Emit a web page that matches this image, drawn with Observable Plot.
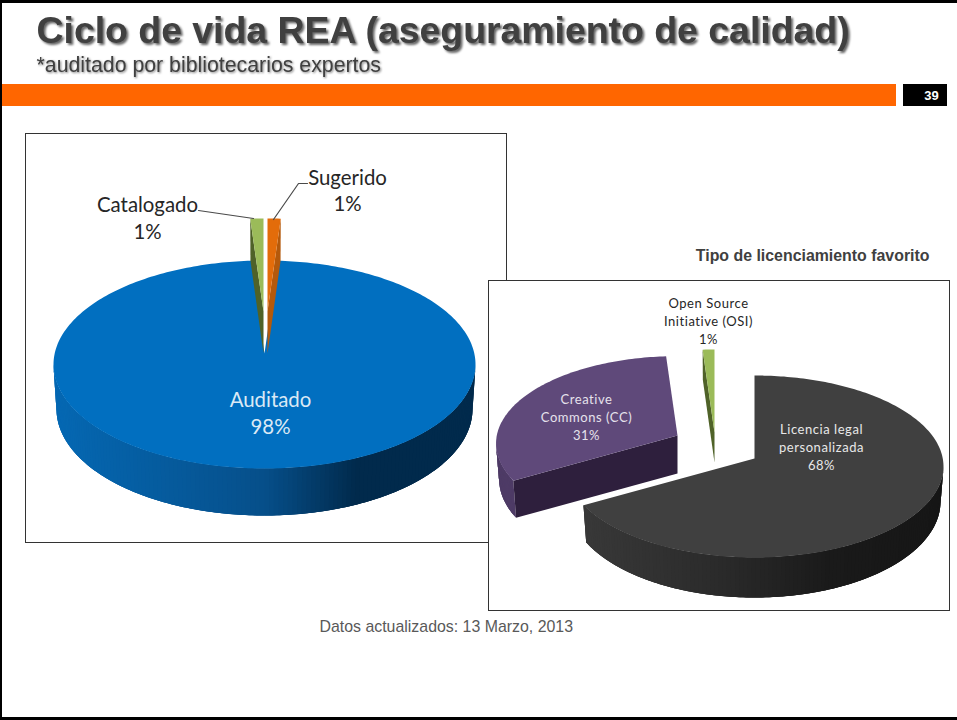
<!DOCTYPE html>
<html lang="es">
<head>
<meta charset="utf-8">
<script src="https://cdn.jsdelivr.net/npm/d3@7"></script>
<script src="https://cdn.jsdelivr.net/npm/@observablehq/plot@0.6"></script>
<style>
  html, body { margin: 0; padding: 0; background: #fff; }
  svg { display: block; }
  text.shadow-big { filter: drop-shadow(2px 2px 1px rgba(0,0,0,.6)); }
  text.shadow-small { filter: drop-shadow(1px 1px 1px rgba(0,0,0,.5)); }
  text.spaced { letter-spacing: .55px; }
</style>
</head>
<body>
<div id="chart"></div>
<script>
// ---- values ----
const titleText = "Ciclo de vida REA (aseguramiento de calidad)";
const subtitleText = "*auditado por bibliotecarios expertos";
const pageNumber = "39";
const licenseTitle = "Tipo de licenciamiento favorito";
const footerText = "Datos actualizados: 13 Marzo, 2013";

const stageCategories = ["Sugerido", "Auditado", "Catalogado"];
const stageValues = [1, 98, 1];
const licenseCategories = ["Licencia legal\npersonalizada", "Creative\nCommons (CC)", "Open Source\nInitiative (OSI)"];
const licenseValues = [68, 31, 1];

// ---- styles and layout ----
const stageStyles = [
  {top: "#e36c0a", cut: "#b4590b", dx: 3, dy: -42, scale: 1, apexDepth: 42, wall: ["#b4590b", "#b4590b"], stops: [0, 1]},
  {top: "#016fc0", cut: null, dx: 0, dy: 0, scale: 1, apexDepth: 0, wall: ["#0568b3", "#064f8a", "#012a4c", "#012a4c"], stops: [0, 0.5, 0.72, 1]},
  {top: "#9bbb59", cut: "#4f6228", dx: -1, dy: -42, scale: 1, apexDepth: 42, wall: ["#4f6228", "#4f6228"], stops: [0, 1]}
];
const licenseStyles = [
  {top: "#404040", cut: null, dx: 0, dy: 0, scale: 1, apexDepth: 0, wall: ["#3a3a3a", "#2b2b2b", "#1a1a1a", "#161616"], stops: [0, 0.4, 0.7, 1]},
  {top: "#5f497a", cut: "#2e1f3d", dx: -77, dy: -23, scale: 0.96, apexDepth: 38, wall: ["#4e3b66", "#4e3b66"], stops: [0, 1]},
  {top: "#9bbb59", cut: "#4f6228", dx: -40, dy: -26, scale: 1, apexDepth: 30, wall: ["#4f6228", "#4f6228"], stops: [0, 1]}
];
const stageGeometry = {cx: 264, cy: 364, rx: 211, ry: 104, apexY: 353, backDepth: 42, frontDepth: 47, shrink: 3};
const licenseGeometry = {cx: 754, cy: 466, rx: 189, ry: 91, apexY: 458, backDepth: 30, frontDepth: 40, shrink: 3};

// Turn pie values into the polygons of a tilted 3D pie, in the plot's own data units.
function pie3d(name, values, styles, g) {
  const arcs = d3.pie().sort(null).value(d => d)(values);
  const polys = [];
  let serial = 0;
  const add = (pts, c) => { const id = `${name}-${serial++}`; pts.forEach(p => polys.push({id, x: p[0], y: p[1], c})); };
  const depthAt = t => g.backDepth + (g.frontDepth - g.backDepth) * (1 - Math.cos(t)) / 2;
  const pt = (s, t, level) => [
    g.cx + s.dx + (g.rx * s.scale - level * g.shrink) * Math.sin(t),
    g.cy + s.dy - g.ry * s.scale * Math.cos(t) + level * depthAt(t)
  ];
  const apex = (s, level) => [g.cx + s.dx, g.apexY + s.dy + level * s.apexDepth];
  const order = d3.range(arcs.length).sort((a, b) => (styles[a].dy ? 1 : 0) - (styles[b].dy ? 1 : 0));
  for (const i of order) {
    const a = arcs[i], s = styles[i];
    const color = d3.scaleLinear().domain(s.stops).range(s.wall);
    // outer wall: only the front half (90deg..270deg) can be seen.
    // Each strip reaches over the next one, so that no seam shows between them.
    const w0 = Math.max(a.startAngle, Math.PI / 2), w1 = Math.min(a.endAngle, 3 * Math.PI / 2);
    if (w1 > w0) {
      const n = Math.ceil((w1 - w0) / (Math.PI / 140));
      const arcOf = (from, to) => d3.range(5).map(j => from + (to - from) * j / 4);
      for (let k = 0; k < n; k++) {
        const t0 = w0 + (w1 - w0) * k / n;
        const t1 = w0 + (w1 - w0) * Math.min(n, k + 3) / n;
        const rim = arcOf(t0, t1);
        add([...rim.map(t => pt(s, t, 0)), ...rim.reverse().map(t => pt(s, t, 1))],
            color((Math.sin(w0 + (w1 - w0) * (k + 0.5) / n) + 1) / 2));
      }
    }
    // radial cut face of a pulled-out narrow slice
    if (s.cut && a.endAngle - a.startAngle < Math.PI) {
      const mid = (a.startAngle + a.endAngle) / 2;
      const edge = mid < Math.PI ? a.endAngle : a.startAngle;
      add([apex(s, 0), pt(s, edge, 0), pt(s, edge, 1), apex(s, 1)], s.cut);
    }
    // top face
    const steps = Math.max(2, Math.ceil((a.endAngle - a.startAngle) / (Math.PI / 180)));
    const top = [apex(s, 0)];
    for (let k = 0; k <= steps; k++) top.push(pt(s, a.startAngle + (a.endAngle - a.startAngle) * k / steps, 0));
    add(top, s.top);
  }
  return polys;
}

const stagePolys = pie3d("etapa", stageValues, stageStyles, stageGeometry);
const licensePolys = pie3d("licencia", licenseValues, licenseStyles, licenseGeometry);
const label = (cats, vals, i) => `${cats[i]}\n${vals[i]}%`;

const stageLabels = [
  {text: label(stageCategories, stageValues, 0), x: 347, y: 189, c: "#262626"},
  {text: label(stageCategories, stageValues, 1), x: 270, y: 411.5, c: "#dbe9f5"},
  {text: label(stageCategories, stageValues, 2), x: 147, y: 216.5, c: "#262626"}
];
const licenseLabels = [
  {text: label(licenseCategories, licenseValues, 0), x: 821, y: 446, c: "#e8e8e8"},
  {text: label(licenseCategories, licenseValues, 1), x: 586, y: 416, c: "#e6e2ec"},
  {text: label(licenseCategories, licenseValues, 2), x: 708, y: 320, c: "#262626"}
];
const leaders = [
  {id: "s", x: 307, y: 183}, {id: "s", x: 298, y: 183}, {id: "s", x: 273, y: 219},
  {id: "c", x: 198, y: 210}, {id: "c", x: 253, y: 218}
];
const frame = [
  {x1: 0, x2: 957, y1: 0, y2: 3}, {x1: 0, x2: 2, y1: 0, y2: 720}, {x1: 0, x2: 957, y1: 717, y2: 720}
];

const chartFont = "Lato, 'Open Sans', sans-serif";
const slideFont = "'Liberation Sans', Arial, sans-serif";
const solo = (x1, x2, y1, y2, extra) => Plot.rect([{x1, x2, y1, y2}], {x1: "x1", x2: "x2", y1: "y1", y2: "y2", ...extra});
const note = (text, x, y, extra) => Plot.text([text], {x: () => x, y: () => y, text: d => d, fontFamily: slideFont, lineAnchor: "middle", ...extra});
const pieLayer = rows => Plot.line(rows, {x: "x", y: "y", z: "id", fill: "c", stroke: "none", curve: "linear"});

const plot = Plot.plot({
  width: 957, height: 720,
  marginTop: 0, marginRight: 0, marginBottom: 0, marginLeft: 0,
  x: {domain: [0, 957], range: [0, 957], axis: null},
  y: {domain: [0, 720], range: [0, 720], axis: null},
  color: {type: "identity"},
  style: {background: "#fff"},
  marks: [
    Plot.rect(frame, {x1: "x1", x2: "x2", y1: "y1", y2: "y2", fill: "#000"}),
    solo(2, 896, 84, 106, {fill: "#ff6600"}),
    solo(903, 947, 84, 106, {fill: "#000"}),
    note(pageNumber, 931, 95.5, {fill: "#fff", fontSize: 13, fontWeight: "bold"}),
    note(titleText, 36, 31, {textAnchor: "start", fill: "#404040", fontSize: 37.4, fontWeight: "bold"}),
    note(subtitleText, 36, 65, {textAnchor: "start", fill: "#404040", fontSize: 21.3}),

    solo(25.5, 506.5, 133.5, 542.5, {fill: "#fff", stroke: "#333", strokeWidth: 1}),
    pieLayer(stagePolys),
    Plot.line(leaders, {x: "x", y: "y", z: "id", stroke: "#4a4a4a", strokeWidth: 1.2}),
    Plot.text(stageLabels, {x: "x", y: "y", text: "text", fill: "c", fontSize: 20.4, fontFamily: chartFont, lineHeight: 1.3, lineAnchor: "middle"}),

    note(licenseTitle, 929, 255.5, {textAnchor: "end", fill: "#404040", fontSize: 15.9, fontWeight: "bold"}),
    solo(488.5, 949.5, 280.5, 610.5, {fill: "#fff", stroke: "#333", strokeWidth: 1}),
    pieLayer(licensePolys),
    Plot.text(licenseLabels, {x: "x", y: "y", text: "text", fill: "c", fontSize: 13, fontFamily: chartFont, lineHeight: 1.38, lineAnchor: "middle"}),

    note(footerText, 319, 626.5, {textAnchor: "start", fill: "#595959", fontSize: 15.9})
  ]
});
// Text shadows and letter spacing that the text mark has no option for.
for (const t of plot.querySelectorAll("text")) {
  const s = t.textContent;
  if (s === titleText) t.classList.add("shadow-big");
  if (s === subtitleText) t.classList.add("shadow-small");
  if (licenseLabels.some(d => d.text.replace(/\n/g, "") === s)) t.classList.add("spaced");
}
document.getElementById("chart").append(plot);
</script>
</body>
</html>
